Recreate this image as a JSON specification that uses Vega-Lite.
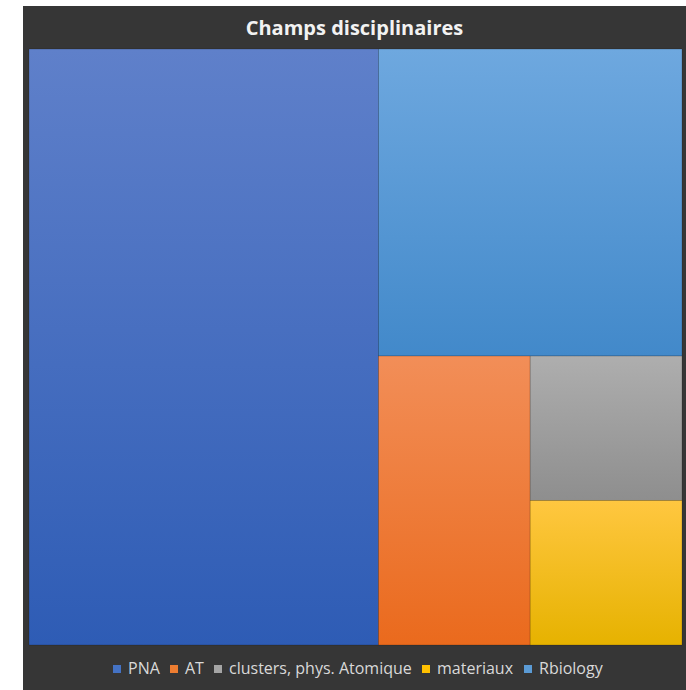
{
  "$schema": "https://vega.github.io/schema/vega-lite/v6.json",
  "width": 663,
  "height": 684,
  "autosize": {"type": "none"},
  "padding": {"left": 23, "top": 6, "right": 0, "bottom": 0},
  "background": "white",
  "config": {
    "view": {"stroke": null, "fill": "#363636"},
    "font": "Open Sans"
  },
  "title": {
    "text": "Champs disciplinaires",
    "anchor": "middle",
    "frame": "group",
    "fontSize": 20,
    "fontWeight": "bold",
    "font": "Open Sans",
    "color": "#F2F2F2",
    "baseline": "middle",
    "offset": -43
  },
  "data": {
    "values": [
      {"cat": "PNA", "value": 38, "g1": "a", "g2": "a", "g3": "a", "g4": "a"},
      {"cat": "Rbiology", "value": 17, "g1": "b", "g2": "b1", "g3": "b1", "g4": "b1"},
      {"cat": "AT", "value": 8, "g1": "b", "g2": "b2", "g3": "b2a", "g4": "b2a"},
      {"cat": "clusters, phys. Atomique", "value": 4, "g1": "b", "g2": "b2", "g3": "b2b", "g4": "c1"},
      {"cat": "materiaux", "value": 4, "g1": "b", "g2": "b2", "g3": "b2b", "g4": "c2"}
    ]
  },
  "transform": [
    {"joinaggregate": [{"op": "sum", "field": "value", "as": "total"}]},
    {"joinaggregate": [{"op": "sum", "field": "value", "as": "s1"}], "groupby": ["g1"]},
    {"joinaggregate": [{"op": "sum", "field": "value", "as": "s2"}], "groupby": ["g2"]},
    {"joinaggregate": [{"op": "sum", "field": "value", "as": "s3"}], "groupby": ["g3"]},
    {"calculate": "datum.g1 === 'a' ? 0 : 1 - datum.s1 / datum.total", "as": "ax0"},
    {"calculate": "datum.g1 === 'a' ? datum.s1 / datum.total : 1", "as": "ax1"},
    {"calculate": "datum.g1 === 'a' ? 0 : (datum.g2 === 'b1' ? 0 : 1 - datum.s2 / datum.s1)", "as": "ay0"},
    {"calculate": "datum.g1 === 'a' ? 1 : (datum.g2 === 'b1' ? datum.s2 / datum.s1 : 1)", "as": "ay1"},
    {"calculate": "datum.g2 !== 'b2' ? datum.ax0 : (datum.g3 === 'b2a' ? datum.ax0 : datum.ax1 - (datum.ax1 - datum.ax0) * datum.s3 / datum.s2)", "as": "bx0"},
    {"calculate": "datum.g2 !== 'b2' ? datum.ax1 : (datum.g3 === 'b2a' ? datum.ax0 + (datum.ax1 - datum.ax0) * datum.s3 / datum.s2 : datum.ax1)", "as": "bx1"},
    {"calculate": "datum.g3 !== 'b2b' ? datum.ay0 : (datum.g4 === 'c1' ? datum.ay0 : datum.ay1 - (datum.ay1 - datum.ay0) * datum.value / datum.s3)", "as": "by0"},
    {"calculate": "datum.g3 !== 'b2b' ? datum.ay1 : (datum.g4 === 'c1' ? datum.ay0 + (datum.ay1 - datum.ay0) * datum.value / datum.s3 : datum.ay1)", "as": "by1"}
  ],
  "encoding": {
    "x": {"field": "bx0", "type": "quantitative", "axis": null, "scale": {"domain": [-0.00919, 1.00613], "nice": false, "zero": false}},
    "x2": {"field": "bx1"},
    "y": {"field": "by0", "type": "quantitative", "axis": null, "scale": {"domain": [-0.07215, 1.0755], "nice": false, "zero": false, "reverse": true}},
    "y2": {"field": "by1"}
  },
  "layer": [
    {
      "mark": {"type": "rect"},
      "encoding": {
        "color": {
          "field": "cat",
          "type": "nominal",
          "scale": {
            "domain": ["PNA", "AT", "clusters, phys. Atomique", "materiaux", "Rbiology"],
            "range": ["#4472C4", "#ED7D31", "#A5A5A5", "#FFC000", "#5B9BD5"]
          },
          "legend": {
            "title": null,
            "orient": "none",
            "legendX": 86,
            "legendY": 655,
            "direction": "horizontal",
            "symbolType": "square",
            "symbolSize": 64,
            "symbolStrokeWidth": 0,
            "labelFontSize": 16,
            "labelFont": "Open Sans",
            "labelColor": "#D9D9D9",
            "labelOffset": 3,
            "columnPadding": 6,
            "labelLimit": 300
          }
        }
      }
    },
    {
      "mark": {"type": "rect", "stroke": "#000000", "strokeOpacity": 0.18, "strokeWidth": 1},
      "encoding": {
        "fill": {
          "condition": [
            {"test": "datum.cat === 'PNA'", "value": {"gradient": "linear", "x1": 0, "y1": 0, "x2": 0, "y2": 1, "stops": [{"offset": 0, "color": "#5F80CA"}, {"offset": 1, "color": "#2E5CB5"}]}},
            {"test": "datum.cat === 'Rbiology'", "value": {"gradient": "linear", "x1": 0, "y1": 0, "x2": 0, "y2": 1, "stops": [{"offset": 0, "color": "#6EA8DF"}, {"offset": 1, "color": "#4289CA"}]}},
            {"test": "datum.cat === 'AT'", "value": {"gradient": "linear", "x1": 0, "y1": 0, "x2": 0, "y2": 1, "stops": [{"offset": 0, "color": "#F28E58"}, {"offset": 1, "color": "#EA6A1D"}]}},
            {"test": "datum.cat === 'materiaux'", "value": {"gradient": "linear", "x1": 0, "y1": 0, "x2": 0, "y2": 1, "stops": [{"offset": 0, "color": "#FFC740"}, {"offset": 1, "color": "#E6B200"}]}}
          ],
          "value": {"gradient": "linear", "x1": 0, "y1": 0, "x2": 0, "y2": 1, "stops": [{"offset": 0, "color": "#AEAEAE"}, {"offset": 1, "color": "#8E8E8E"}]}
        }
      }
    }
  ]
}
